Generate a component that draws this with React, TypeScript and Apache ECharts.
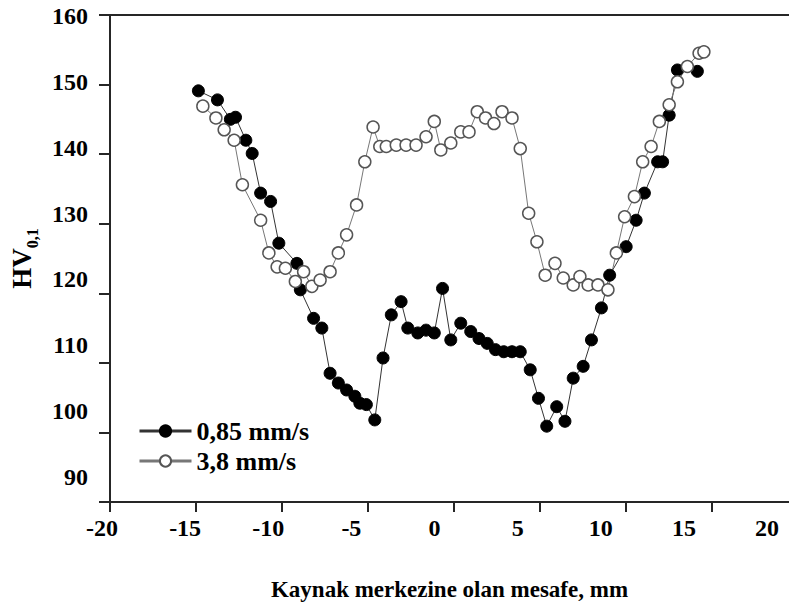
import React, { useEffect, useRef } from "react";
import * as echarts from "echarts";

const seriesNames = ["0,85 mm/s", "3,8 mm/s"];
const xTickLabels = [-20, -15, -10, -5, 0, 5, 10, 15, 20];
const xTickMarks = [-20, -15, -10, -5, 0, 5, 10, 15];
const yTickLabels = [90, 100, 110, 120, 130, 140, 150, 160];
const xTitle = "Kaynak merkezine olan mesafe, mm";

const speed085: [number, number][] = [
  [-14.86, 149.1], [-13.75, 147.8], [-13.0, 145.0], [-12.7, 145.3], [-12.1, 142.0],
  [-11.73, 140.1], [-11.24, 134.4], [-10.66, 133.2], [-10.18, 127.2], [-9.13, 124.3],
  [-8.93, 120.5], [-8.16, 116.4], [-7.68, 115.0], [-7.2, 108.5], [-6.72, 107.1],
  [-6.24, 106.1], [-5.76, 105.2], [-5.47, 104.2], [-5.09, 104.0], [-4.6, 101.8],
  [-4.12, 110.7], [-3.64, 116.9], [-3.07, 118.8], [-2.68, 115.0], [-2.1, 114.3],
  [-1.62, 114.7], [-1.14, 114.3], [-0.66, 120.7], [-0.18, 113.3], [0.4, 115.7],
  [0.98, 114.5], [1.46, 113.5], [1.94, 112.8], [2.42, 111.9], [2.9, 111.6],
  [3.38, 111.6], [3.86, 111.6], [4.44, 109.0], [4.92, 104.9], [5.4, 100.9],
  [5.98, 103.7], [6.46, 101.6], [6.94, 107.8], [7.52, 109.5], [8.0, 113.3],
  [8.58, 117.9], [9.06, 122.6], [10.02, 126.7], [10.6, 130.5], [11.08, 134.4],
  [11.85, 138.9], [12.14, 138.9], [12.52, 145.6], [13.0, 152.1], [14.16, 151.9],
];

const speed38: [number, number][] = [
  [-14.6, 146.9], [-13.84, 145.2], [-13.36, 143.5], [-12.78, 142.0], [-12.3, 135.6],
  [-11.24, 130.5], [-10.76, 125.8], [-10.28, 123.8], [-9.8, 123.6], [-9.22, 121.7],
  [-8.74, 123.1], [-8.26, 121.0], [-7.78, 121.9], [-7.2, 123.1], [-6.72, 125.8],
  [-6.24, 128.4], [-5.66, 132.7], [-5.18, 138.9], [-4.7, 143.9], [-4.31, 141.1],
  [-3.93, 141.1], [-3.35, 141.3], [-2.78, 141.3], [-2.2, 141.3], [-1.62, 142.5],
  [-1.14, 144.7], [-0.76, 140.6], [-0.18, 141.6], [0.4, 143.2], [0.88, 143.2],
  [1.36, 146.1], [1.84, 145.2], [2.33, 144.4], [2.8, 146.1], [3.38, 145.2],
  [3.86, 140.8], [4.35, 131.5], [4.83, 127.4], [5.31, 122.6], [5.88, 124.3],
  [6.36, 122.2], [6.94, 121.2], [7.33, 122.4], [7.81, 121.2], [8.38, 121.2],
  [8.96, 120.5], [9.45, 125.8], [9.93, 131.0], [10.5, 133.9], [10.98, 138.9],
  [11.47, 141.1], [11.95, 144.7], [12.52, 147.1], [13.0, 150.4], [13.58, 152.6],
  [14.26, 154.5], [14.54, 154.7],
];

const FONT = "'Liberation Serif', 'Times New Roman', serif";
const AXIS_COLOR = "#262626";

export default function App() {
  const ref = useRef<HTMLDivElement>(null);
  useEffect(() => {
    if (!ref.current) return;
    const chart = echarts.init(ref.current, undefined, { renderer: "svg" });
    const axisLineStyle = { color: AXIS_COLOR, width: 2 };
    const labelStyle = { fontSize: 24, fontWeight: "bold", fontFamily: FONT, color: "#000" };
    chart.setOption({
      animation: false,
      backgroundColor: "#fff",
      grid: [
        { left: 105, right: 0, top: 15, bottom: 108 },
        { left: 102, right: 22, top: 16, bottom: 133 },
      ],
      xAxis: [
        {
          type: "value", gridIndex: 0, position: "bottom", min: -20, max: 19.49,
          axisLine: { show: true, onZero: false, lineStyle: axisLineStyle },
          axisTick: { show: true, customValues: xTickMarks, length: 10, lineStyle: axisLineStyle },
          axisLabel: { show: false }, splitLine: { show: false },
          name: xTitle, nameLocation: "middle", nameGap: 76,
          nameTextStyle: { fontSize: 23, fontWeight: "bold", fontFamily: FONT, color: "#000" },
        },
        {
          type: "value", gridIndex: 0, position: "top", min: -20, max: 19.49,
          axisLine: { show: true, onZero: false, lineStyle: axisLineStyle },
          axisTick: { show: false }, axisLabel: { show: false }, splitLine: { show: false },
        },
        {
          type: "value", gridIndex: 1, position: "bottom", min: -20, max: 20, interval: 5,
          axisLine: { show: false }, axisTick: { show: false }, splitLine: { show: false },
          axisLabel: { ...labelStyle, margin: 39, customValues: xTickLabels },
        },
      ],
      yAxis: [
        {
          type: "value", gridIndex: 0, min: 90, max: 160, interval: 10,
          axisLine: { show: true, onZero: false, lineStyle: axisLineStyle },
          axisTick: { show: true, length: 11, lineStyle: axisLineStyle },
          axisLabel: { show: false }, splitLine: { show: false },
          name: "{a|HV}{b|0,1}", nameLocation: "middle", nameRotate: 90, nameGap: 70,
          nameTextStyle: {
            rich: {
              a: { fontSize: 27, fontWeight: "bold", fontFamily: FONT, color: "#000", verticalAlign: "bottom", lineHeight: 27, padding: [0, 0, 5, 0] },
              b: { fontSize: 16, fontWeight: "bold", fontFamily: FONT, color: "#000", verticalAlign: "bottom", lineHeight: 16 },
            },
          },
        },
        {
          type: "value", gridIndex: 1, min: 90, max: 160, interval: 10,
          axisLine: { show: false }, axisTick: { show: false }, splitLine: { show: false },
          axisLabel: { ...labelStyle, margin: 14, customValues: yTickLabels },
        },
      ],
      legend: {
        orient: "vertical", left: 133, top: 413, itemWidth: 52, itemHeight: 14, itemGap: 4,
        data: seriesNames,
        textStyle: { fontSize: 26, fontWeight: "bold", fontFamily: FONT, color: "#000" },
        lineStyle: { width: 3 },
      },
      series: [
        {
          name: seriesNames[0], type: "line", xAxisIndex: 0, yAxisIndex: 0,
          data: speed085, symbol: "circle", symbolSize: 12,
          lineStyle: { color: "#333", width: 1 },
          itemStyle: { color: "#000", borderColor: "#000", borderWidth: 1 },
        },
        {
          name: seriesNames[1], type: "line", xAxisIndex: 0, yAxisIndex: 0,
          data: speed38, symbol: "circle", symbolSize: 12,
          lineStyle: { color: "#777", width: 1 },
          itemStyle: { color: "#fff", borderColor: "#555", borderWidth: 1.5 },
        },
      ],
    });
    return () => chart.dispose();
  }, []);
  return <div ref={ref} style={{ position: "fixed", left: 0, top: 0, width: 789, height: 610 }} />;
}
